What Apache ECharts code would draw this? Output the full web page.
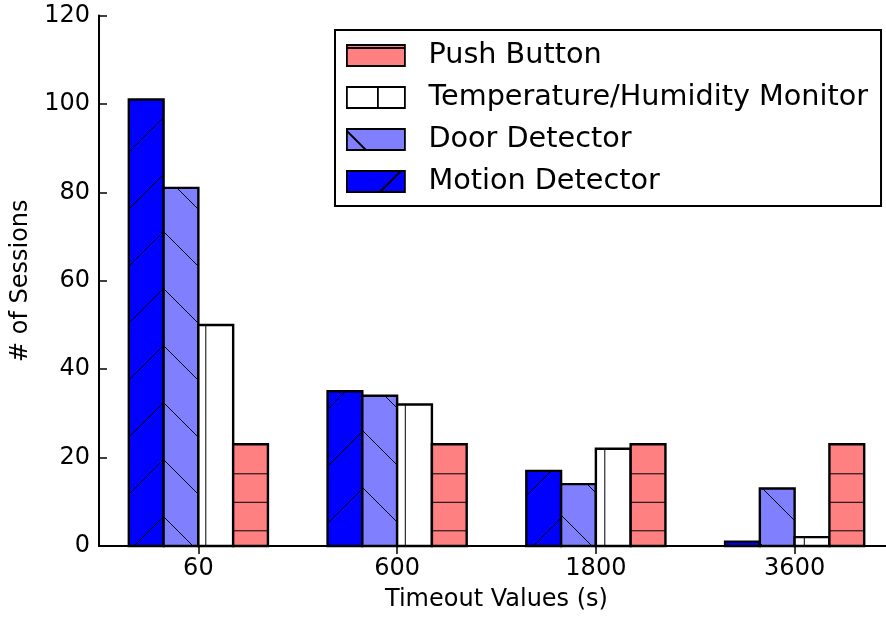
<!DOCTYPE html>
<html>
<head>
<meta charset="utf-8">
<title>Sessions per timeout value</title>
<script src="https://cdn.jsdelivr.net/npm/echarts@6/dist/echarts.min.js"></script>
<style>
  html, body { margin: 0; padding: 0; background: #fff; }
  #chart { width: 886px; height: 617px; }
</style>
</head>
<body>
<div id="chart"></div>
<script>
// Timeout values on the x axis
const categories = ['60', '600', '1800', '3600'];

// Number of sessions per sensor type
const motionDetector = [101, 35, 17, 1];
const doorDetector   = [81, 34, 14, 13];
const tempHumidity   = [50, 32, 22, 2];
const pushButton     = [23, 23, 23, 23];

// Y axis range and tick step
const yMin = 0;
const yMax = 120;
const yStep = 20;

const FONT = 'DejaVu Sans';
const BAR_FRAC = 0.175;     // width of one bar as a fraction of a category band

// Hatch geometry, in canvas pixels (pattern anchored to the canvas)
const HATCH = {
  '/':  { period: 57,   phase: 53 },
  '\\': { period: 57,   phase: 46 },
  '-':  { period: 28.5, phase: 17.8 },
  '|':  { period: 28.5, phase: 6.3 }
};

// Hatch line segments clipped to the rectangle [x0,x1] x [y0,y1]
function hatchSegments(kind, x0, y0, x1, y1) {
  const { period, phase } = HATCH[kind];
  const segs = [];
  const edge = 1.5;
  if (kind === '/') {           // x + y = c
    const k0 = Math.ceil((x0 + y0 - phase) / period);
    const k1 = Math.floor((x1 + y1 - phase) / period);
    for (let k = k0; k <= k1; k++) {
      const c = phase + k * period;
      const ya = Math.max(y0, c - x1), yb = Math.min(y1, c - x0);
      if (yb - ya > 0.5) segs.push([c - ya, ya, c - yb, yb]);
    }
  } else if (kind === '\\') {   // x - y = c
    const k0 = Math.ceil((x0 - y1 - phase) / period);
    const k1 = Math.floor((x1 - y0 - phase) / period);
    for (let k = k0; k <= k1; k++) {
      const c = phase + k * period;
      const ya = Math.max(y0, x0 - c), yb = Math.min(y1, x1 - c);
      if (yb - ya > 0.5) segs.push([c + ya, ya, c + yb, yb]);
    }
  } else if (kind === '-') {
    const k0 = Math.ceil((y0 + edge - phase) / period);
    const k1 = Math.floor((y1 - edge - phase) / period);
    for (let k = k0; k <= k1; k++) {
      const c = phase + k * period;
      segs.push([x0, c, x1, c]);
    }
  } else if (kind === '|') {
    const k0 = Math.ceil((x0 + edge - phase) / period);
    const k1 = Math.floor((x1 - edge - phase) / period);
    for (let k = k0; k <= k1; k++) {
      const c = phase + k * period;
      segs.push([c, y0, c, y1]);
    }
  }
  return segs;
}

// One hatched bar per data item; slot is the bar's position inside its group
function hatchedBar(slot, kind, fill) {
  return function (params, api) {
    const ci = api.value(0);
    const v = api.value(1);
    const base = api.coord([ci, 0]);
    const top = api.coord([ci, v]);
    const band = api.size([1, 0])[0];
    const w = band * BAR_FRAC;
    const x0 = base[0] + (slot - 2) * w;
    const x1 = x0 + w;
    const y0 = top[1];
    const y1 = base[1];
    const children = [{
      type: 'rect',
      shape: { x: x0, y: y0, width: w, height: y1 - y0 },
      style: { fill: fill, stroke: null }
    }];
    hatchSegments(kind, x0, y0, x1, y1).forEach(function (s) {
      children.push({
        type: 'line',
        shape: { x1: s[0], y1: s[1], x2: s[2], y2: s[3] },
        style: { stroke: '#000', lineWidth: 1 }
      });
    });
    children.push({
      type: 'rect',
      shape: { x: x0, y: y0, width: w, height: y1 - y0 },
      style: { fill: null, stroke: '#000', lineWidth: 2.4 }
    });
    return { type: 'group', children: children };
  };
}

function toItems(values) {
  return values.map(function (v, i) { return [i, v]; });
}

const seriesDefs = [
  { name: 'Motion Detector', values: motionDetector, kind: '/', color: '#0000ff' },
  { name: 'Door Detector', values: doorDetector, kind: '\\', color: '#8080ff' },
  { name: 'Temperature/Humidity Monitor', values: tempHumidity, kind: '|', color: '#ffffff' },
  { name: 'Push Button', values: pushButton, kind: '-', color: '#ff8080' }
];

// Legend swatches: a 58x21 box with the series' hatch stroke inside
const legendIcons = {
  'Push Button': 'path://M0,0H58V21H0Z M0,3H58',
  'Temperature/Humidity Monitor': 'path://M0,0H58V21H0Z M31,0V21',
  'Door Detector': 'path://M0,0H58V21H0Z M0,2L19,21',
  'Motion Detector': 'path://M0,0H58V21H0Z M33,21L54,0'
};

const axisLineStyle = { color: '#000', width: 2 };
const tickStyle = { color: '#000', width: 1.5 };

const option = {
  animation: false,
  backgroundColor: '#fff',
  textStyle: { fontFamily: FONT, color: '#000' },
  grid: { left: 99, right: -8, top: 15.5, bottom: 71, containLabel: false, outerBoundsMode: 'none' },
  xAxis: [
    {
      type: 'category',
      data: categories,
      position: 'bottom',
      boundaryGap: true,
      axisLine: { show: true, lineStyle: axisLineStyle },
      axisTick: { show: true, inside: true, alignWithLabel: true, length: 8, lineStyle: tickStyle },
      axisLabel: { color: '#000', fontSize: 24, fontFamily: FONT, margin: 11 },
      splitLine: { show: false },
      name: 'Timeout Values (s)',
      nameLocation: 'middle',
      nameGap: 42,
      nameTextStyle: { color: '#000', fontSize: 24, fontFamily: FONT }
    },
    {
      type: 'category',
      data: categories,
      position: 'top',
      boundaryGap: true,
      axisLine: { show: true, lineStyle: axisLineStyle },
      axisTick: { show: true, inside: true, alignWithLabel: true, length: 8, lineStyle: tickStyle },
      axisLabel: { show: false },
      splitLine: { show: false }
    }
  ],
  yAxis: [
    {
      type: 'value',
      min: yMin, max: yMax, interval: yStep,
      position: 'left',
      axisLine: { show: true, lineStyle: axisLineStyle },
      axisTick: { show: true, inside: true, length: 8, lineStyle: tickStyle },
      axisLabel: { color: '#000', fontSize: 24, fontFamily: FONT, margin: 9 },
      splitLine: { show: false },
      name: '# of Sessions',
      nameLocation: 'middle',
      nameGap: 66,
      nameTextStyle: { color: '#000', fontSize: 24, fontFamily: FONT }
    },
    {
      type: 'value',
      min: yMin, max: yMax, interval: yStep,
      position: 'right',
      axisLine: { show: true, lineStyle: axisLineStyle },
      axisTick: { show: true, inside: true, length: 8, lineStyle: tickStyle },
      axisLabel: { show: false },
      splitLine: { show: false }
    }
  ],
  legend: {
    orient: 'vertical',
    left: 335,
    top: 30,
    padding: [11, 13, 10, 11],
    itemGap: 13.0,
    itemWidth: 58,
    itemHeight: 21,
    backgroundColor: '#fff',
    borderColor: '#000',
    borderWidth: 2,
    borderRadius: 0,
    selectedMode: false,
    textStyle: { color: '#000', fontSize: 28.7, fontFamily: FONT, padding: [0, 0, 0, 18.5] },
    data: ['Push Button', 'Temperature/Humidity Monitor', 'Door Detector', 'Motion Detector'].map(function (name) {
      const def = seriesDefs.find(function (d) { return d.name === name; });
      return {
        name: name,
        icon: legendIcons[name],
        itemStyle: { color: def.color, borderColor: '#000', borderWidth: 1.8 }
      };
    })
  },
  series: seriesDefs.map(function (d, slot) {
    return {
      type: 'custom',
      name: d.name,
      xAxisIndex: 0,
      yAxisIndex: 0,
      itemStyle: { color: d.color, borderColor: '#000' },
      renderItem: hatchedBar(slot, d.kind, d.color),
      encode: { x: 0, y: 1 },
      data: toItems(d.values)
    };
  })
};

const chart = echarts.init(document.getElementById('chart'), null, { renderer: 'canvas' });
chart.setOption(option);
</script>
</body>
</html>
